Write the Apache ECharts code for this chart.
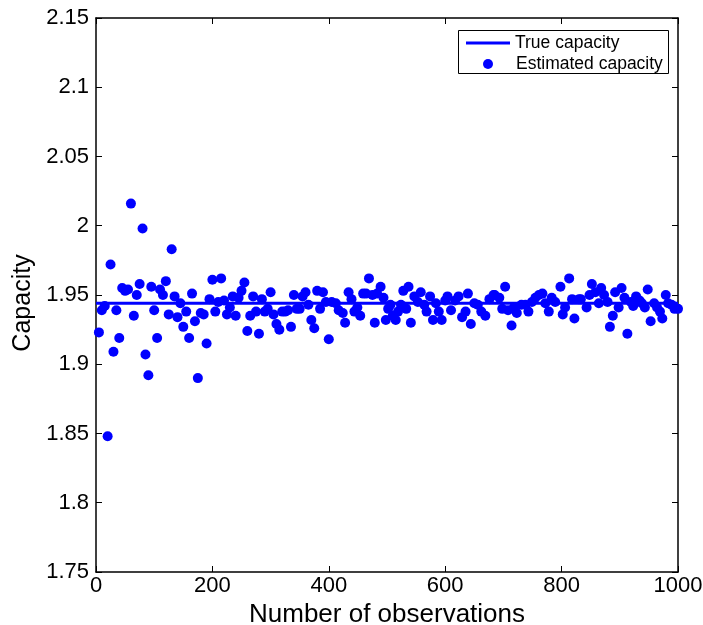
<!DOCTYPE html>
<html>
<head>
<meta charset="utf-8">
<script src="https://cdn.jsdelivr.net/npm/echarts@6/dist/echarts.min.js"></script>
<style>html,body{margin:0;padding:0;background:#fff}#c{width:703px;height:625px}</style>
</head>
<body>
<div id="c"></div>
<script>
const obsX = [5,10,15,20,25,30,35,40,45,50,55,60,65,70,75,80,85,90,95,100,105,110,115,120,125,130,135,140,145,150,155,160,165,170,175,180,185,190,195,200,205,210,215,220,225,230,235,240,245,
250,255,260,265,270,275,280,285,290,295,300,305,310,315,320,325,330,335,340,345,350,355,360,365,370,375,380,385,390,395,400,
405,412,417,424,428,434,439,444,449,454,459,464,469,475,479,483,489,494,498,502,506,510,515,519,524,528,533,537,541,
547,553,558,564,568,574,579,584,589,594,600,604,610,617,623,629,635,639,644,650,656,662,669,676,683,
685,693,698,703,708,714,718,723,731,738,743,749,755,761,767,772,778,783,789,798,802,806,813,818,822,830,
833,843,848,852,858,864,868,873,879,883,888,892,898,903,908,913,919,923,928,934,938,943,948,953,959,964,969,973,979,983,989,994,1000];
const estCap = [1.923,1.939,1.942,1.848,1.972,1.909,1.939,1.919,1.955,1.953,1.954,2.016,1.935,1.950,1.958,1.998,1.907,1.892,1.956,1.939,1.919,1.954,1.950,1.960,1.936,1.983,1.949,1.934,1.944,1.927,1.938,1.919,1.951,1.931,1.890,1.937,1.936,1.915,1.947,1.961,1.938,1.945,1.962,1.946,1.936,1.941,1.949,1.935,1.948,
1.953,1.959,1.924,1.935,1.949,1.938,1.922,1.947,1.938,1.940,1.952,1.936,1.929,1.925,1.938,1.938,1.939,1.927,1.950,1.940,1.940,1.949,1.952,1.943,1.932,1.926,1.953,1.940,1.952,1.945,1.918,
1.945,1.944,1.939,1.937,1.930,1.952,1.947,1.938,1.941,1.935,1.951,1.951,1.962,1.950,1.930,1.951,1.956,1.948,1.932,1.940,1.943,1.935,1.932,1.938,1.943,1.953,1.940,1.956,1.930,
1.949,1.945,1.952,1.943,1.938,1.949,1.932,1.944,1.938,1.932,1.946,1.949,1.939,1.946,1.949,1.934,1.938,1.951,1.929,1.944,1.943,1.938,1.935,1.947,1.950,
1.950,1.948,1.940,1.956,1.939,1.928,1.941,1.937,1.943,1.943,1.938,1.945,1.948,1.950,1.951,1.944,1.938,1.948,1.945,1.956,1.936,1.941,1.962,1.947,1.933,1.947,
1.947,1.941,1.950,1.958,1.952,1.944,1.955,1.950,1.945,1.927,1.935,1.952,1.941,1.955,1.948,1.922,1.945,1.942,1.949,1.946,1.944,1.941,1.954,1.931,1.944,1.941,1.938,1.933,1.950,1.944,1.943,1.940,1.940];
const trueX = [0, 1000];
const trueCap = [1.944, 1.944];
const xTicks = [0, 200, 400, 600, 800, 1000];
const yTicks = [1.75, 1.8, 1.85, 1.9, 1.95, 2, 2.05, 2.1, 2.15];

const FONT = '"Liberation Sans", Arial, Helvetica, sans-serif';
const BLUE = '#0000ff';
const chart = echarts.init(document.getElementById('c'), null, {renderer: 'canvas'});
const fmtY = v => String(parseFloat(v.toFixed(2)));
const fmtX = v => String(Math.round(v));
function line() { return {show: true, onZero: false, lineStyle: {color: '#000', width: 1.5}}; }
function tick() { return {show: true, inside: true, length: 6, lineStyle: {color: '#000', width: 1}}; }
const xMin = xTicks[0], xMax = xTicks[xTicks.length - 1];
const yMin = yTicks[0], yMax = yTicks[yTicks.length - 1];

chart.setOption({
  animation: false,
  backgroundColor: '#fff',
  grid: {left: 96, right: 25, top: 18, bottom: 53, containLabel: false, outerBoundsMode: 'none'},
  xAxis: [
    {type: 'value', position: 'bottom', min: xMin, max: xMax, interval: 200, splitLine: {show: false},
      axisLine: line(), axisTick: tick(),
      name: 'Number of observations', nameLocation: 'middle', nameGap: 20,
      nameTextStyle: {fontFamily: FONT, fontSize: 26, color: '#000'},
      axisLabel: {fontFamily: FONT, fontSize: 22, color: '#000', margin: 3, formatter: fmtX}},
    {type: 'value', position: 'top', min: xMin, max: xMax, interval: 200, splitLine: {show: false},
      axisLine: line(), axisTick: tick(), axisLabel: {show: false}}
  ],
  yAxis: [
    {type: 'value', position: 'left', min: yMin, max: yMax, interval: 0.05, splitLine: {show: false},
      axisLine: line(), axisTick: tick(),
      name: 'Capacity', nameLocation: 'middle', nameGap: 41,
      nameTextStyle: {fontFamily: FONT, fontSize: 25, color: '#000', padding: [0, 16, 0, 0]},
      axisLabel: {fontFamily: FONT, fontSize: 22, color: '#000', margin: 7, formatter: fmtY}},
    {type: 'value', position: 'right', min: yMin, max: yMax, interval: 0.05, splitLine: {show: false},
      axisLine: line(), axisTick: tick(), axisLabel: {show: false}}
  ],
  legend: [
    {left: 466, top: 34, itemWidth: 44, itemHeight: 3, itemGap: 0, padding: 0, z: 20,
      textStyle: {fontFamily: FONT, fontSize: 17.5, color: '#000'},
      data: [{name: 'True capacity', icon: 'rect'}]},
    {left: 483, top: 55, itemWidth: 10, itemHeight: 10, itemGap: 0, padding: 0, z: 20,
      textStyle: {fontFamily: FONT, fontSize: 17.5, color: '#000', padding: [0, 0, 0, 18]},
      data: [{name: 'Estimated capacity', icon: 'circle'}]}
  ],
  graphic: [
    {type: 'rect', left: 458, top: 30, shape: {width: 210, height: 43},
      style: {fill: '#fff', stroke: '#000', lineWidth: 1}, z: 15}
  ],
  series: [
    {name: 'True capacity', type: 'line', xAxisIndex: 0, yAxisIndex: 0,
      data: trueX.map((x, i) => [x, trueCap[i]]), symbol: 'none', showSymbol: false,
      lineStyle: {color: BLUE, width: 3}, itemStyle: {color: BLUE}, z: 10},
    {name: 'Estimated capacity', type: 'scatter', xAxisIndex: 0, yAxisIndex: 0,
      data: obsX.map((x, i) => [x, estCap[i]]), symbol: 'circle', symbolSize: 10,
      itemStyle: {color: BLUE, opacity: 1}, z: 2}
  ]
});
</script>
</body>
</html>
